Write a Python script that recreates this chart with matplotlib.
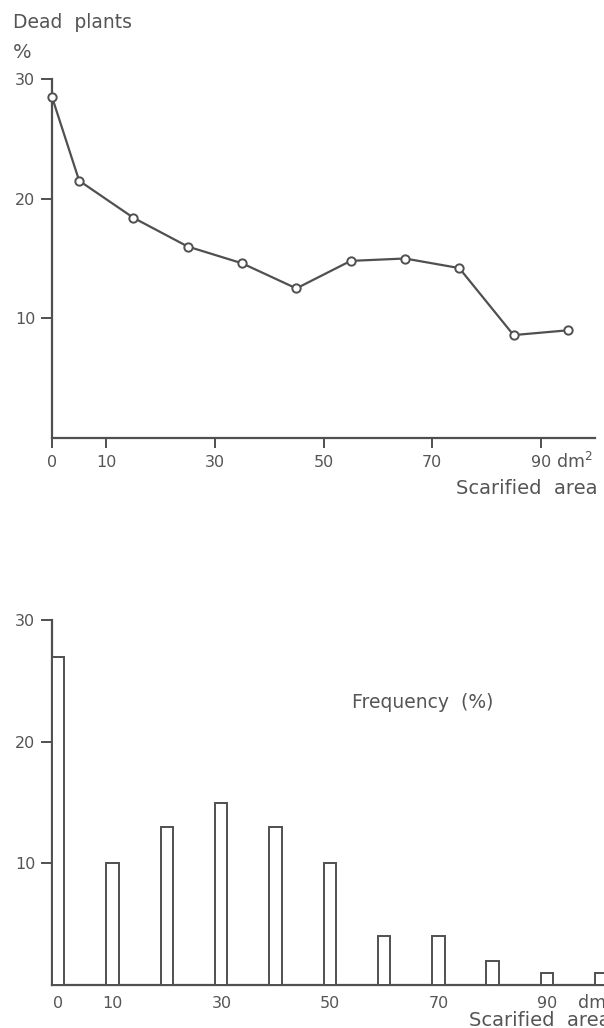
import numpy as np
import matplotlib
matplotlib.use('Agg')
import matplotlib.pyplot as plt

# top panel: dead plants (%) vs scarified area class midpoints
area_mid = [0, 5, 15, 25, 35, 45, 55, 65, 75, 85, 95]
dead_pct = [28.5, 21.5, 18.4, 16.0, 14.6, 12.5, 14.8, 15.0, 14.2, 8.6, 9.0]

# bottom panel: frequency (%) of scarified area classes
area_class = [0, 10, 20, 30, 40, 50, 60, 70, 80, 90, 100]
freq_pct = [27, 10, 13, 15, 13, 10, 4, 4, 2, 1, 1]

xtick_vals = [0, 10, 30, 50, 70, 90]
ytick_vals = [10, 20, 30]

W, H = 604, 1028
col = '#505050'
txt = '#555555'
plt.rcParams['font.family'] = ['DejaVu Sans']

fig = plt.figure(figsize=(W/100, H/100), dpi=100)

def fx(px):
    return px/W

def fy(py):
    return 1 - py/H

def style(ax):
    for s in ['top', 'right']:
        ax.spines[s].set_visible(False)
    for s in ['left', 'bottom']:
        ax.spines[s].set_color(col)
        ax.spines[s].set_linewidth(1.6)
    ax.set_yticks(ytick_vals)
    ax.set_yticklabels([str(v) for v in ytick_vals])
    ax.tick_params(axis='y', length=8, width=1.4, color=col, pad=4,
                   labelsize=11.5, labelcolor=txt)
    ax.set_facecolor('none')

# ---- top chart
ax1 = fig.add_axes([fx(52), fy(438), 100*5.43/W, (438-79)/H])
ax1.set_xlim(0, 100)
ax1.set_ylim(0, 30)
style(ax1)
ax1.plot(area_mid, dead_pct, color=col, lw=1.6, marker='o', ms=6,
         mfc='white', mec=col, mew=1.4, clip_on=False, zorder=3)
ax1.set_xticks(xtick_vals)
ax1.set_xticklabels([str(v) for v in xtick_vals])
ax1.tick_params(axis='x', length=7, width=1.4, color=col, pad=5,
                labelsize=11.5, labelcolor=txt)

fig.text(fx(13), fy(23), 'Dead  plants', fontsize=13.5, color=txt,
         va='center', ha='left')
fig.text(fx(13), fy(52), '%', fontsize=14, color=txt, va='center', ha='left')
fig.text(fx(556), fy(462), 'dm$^2$', fontsize=12.5, color=txt, va='center', ha='left')
fig.text(fx(598), fy(489), 'Scarified  area', fontsize=14, color=txt,
         va='center', ha='right')

# ---- bottom chart
ax2 = fig.add_axes([fx(52), fy(985), 110*5.43/W, (985-620)/H])
ax2.set_xlim(0, 110)
ax2.set_ylim(0, 30)
style(ax2)
ax2.bar(area_class, freq_pct, width=2.3, align='edge', facecolor='white',
        edgecolor=col, linewidth=1.4, zorder=3)
ax2.set_xticks([v + 1.2 for v in xtick_vals])
ax2.set_xticklabels([str(v) for v in xtick_vals])
ax2.tick_params(axis='x', length=0, pad=8, labelsize=11.5, labelcolor=txt)

fig.text(fx(352), fy(702), 'Frequency  (%)', fontsize=13.5, color=txt,
         va='center', ha='left')
# the reference is cropped at the right edge, so these two run off the page
fig.text(fx(578), fy(1003), 'dm', fontsize=12.5, color=txt, va='center', ha='left')
fig.text(fx(469), fy(1021), 'Scarified  area', fontsize=14, color=txt,
         va='center', ha='left')

fig.savefig('out.png', dpi=100)
